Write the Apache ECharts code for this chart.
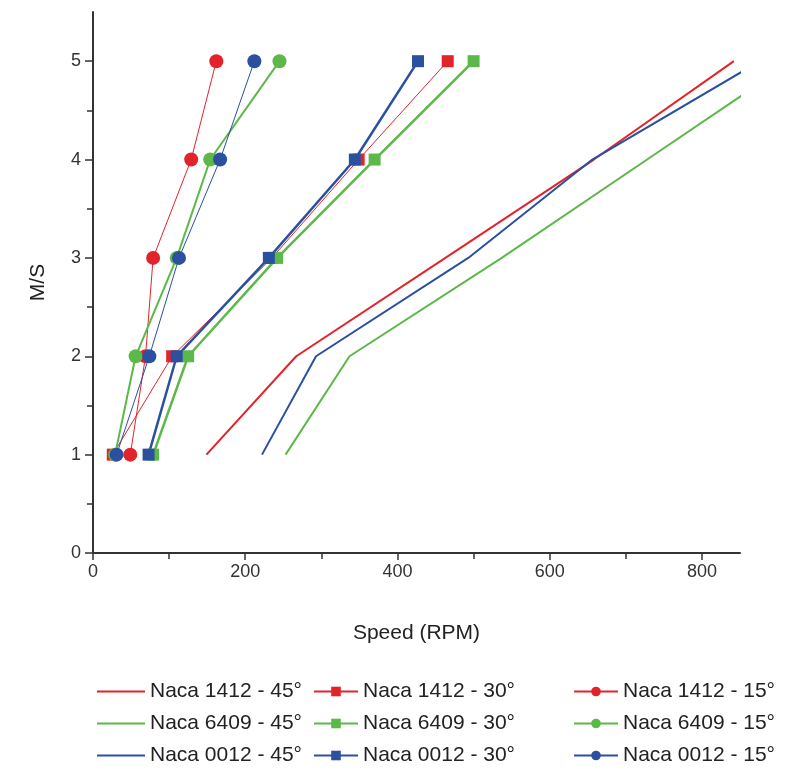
<!DOCTYPE html>
<html>
<head>
<meta charset="utf-8">
<script src="https://cdn.jsdelivr.net/npm/echarts@6/dist/echarts.min.js"></script>
<style>
html,body{margin:0;padding:0;background:#fff;}
#c{width:790px;height:778px;}
</style>
</head>
<body>
<div id="c"></div>
<script>
// Y levels (M/S)
const speedLevels = [1, 2, 3, 4, 5];
// 45° series (RPM)
const naca1412_45 = [149, 267, 463, 658, 842];
const naca6409_45 = [253, 337, 537, 728, 919];
const naca0012_45 = [222, 293, 493, 656, 876];
// 30° series (RPM)
const naca1412_30 = [26, 104, 235, 349, 466];
const naca6409_30 = [79, 125, 242, 370, 500];
const naca0012_30 = [73, 110, 231, 344, 427];
// 15° series (RPM)
const naca1412_15 = [49, 69, 79, 129, 162];
const naca6409_15 = [29, 56, 110, 154, 245];
const naca0012_15 = [31, 74, 113, 167, 212];

const xMajorTicks = [0, 200, 400, 600, 800];
const xMinorTicks = [100, 300, 500, 700];
const yMajorTicks = [0, 1, 2, 3, 4, 5];
const yMinorTicks = [0.5, 1.5, 2.5, 3.5, 4.5];

const RED = '#e3232a', GREEN = '#5cb848', BLUE = '#2b50a0';
const FONT = '"Liberation Sans", Arial, sans-serif';

function pts(xs) { return xs.map((x, i) => [x, speedLevels[i]]); }
function mk(name, xs, color, width, symbol, size) {
  return {
    name: name, type: 'line', data: pts(xs),
    xAxisIndex: 0, yAxisIndex: 0,
    symbol: symbol || 'none', symbolSize: size || 0,
    showSymbol: !!symbol,
    lineStyle: { color: color, width: width },
    itemStyle: { color: color },
    emphasis: { disabled: true },
    animation: false
  };
}

const axisLineStyle = { color: '#333', width: 2 };
const legendText = { fontSize: 21, color: '#222', fontFamily: FONT, padding: [0, 0, 0, 0] };

const chart = echarts.init(document.getElementById('c'));
chart.setOption({
  backgroundColor: '#fff',
  animation: false,
  grid: { left: 93, right: 50, top: 12, bottom: 225, containLabel: false },
  xAxis: [
    {
      type: 'value', min: 0, max: 850,
      name: 'Speed (RPM)', nameLocation: 'middle', nameGap: 70,
      nameTextStyle: { fontSize: 21, color: '#222', fontFamily: FONT },
      axisLine: { show: true, lineStyle: axisLineStyle },
      axisTick: { show: true, customValues: xMajorTicks, length: 7, lineStyle: { color: '#333', width: 1.5 } },
      axisLabel: { customValues: xMajorTicks, fontSize: 18, color: '#333', margin: 10, fontFamily: FONT },
      splitLine: { show: false }
    },
    {
      type: 'value', min: 0, max: 850, position: 'bottom',
      axisLine: { show: false },
      axisTick: { show: true, customValues: xMinorTicks, length: 6, lineStyle: { color: '#333', width: 1.5 } },
      axisLabel: { show: false },
      splitLine: { show: false }
    }
  ],
  yAxis: [
    {
      type: 'value', min: 0, max: 5.5,
      name: 'M/S', nameLocation: 'middle', nameGap: 44,
      nameTextStyle: { fontSize: 21, color: '#222', fontFamily: FONT },
      axisLine: { show: true, lineStyle: axisLineStyle },
      axisTick: { show: true, customValues: yMajorTicks, length: 8, lineStyle: { color: '#333', width: 1.5 } },
      axisLabel: { customValues: yMajorTicks, fontSize: 18, color: '#333', margin: 12, fontFamily: FONT },
      splitLine: { show: false }
    },
    {
      type: 'value', min: 0, max: 5.5, position: 'left',
      axisLine: { show: false },
      axisTick: { show: true, customValues: yMinorTicks, length: 6, lineStyle: { color: '#333', width: 1.5 } },
      axisLabel: { show: false },
      splitLine: { show: false }
    }
  ],
  legend: [
    {
      orient: 'vertical', left: 97, top: 681, itemWidth: 48, itemHeight: 2, itemGap: 11,
      padding: 0,
      textStyle: legendText,
      data: [
        { name: 'Naca 1412 - 45°', icon: 'rect' },
        { name: 'Naca 6409 - 45°', icon: 'rect' },
        { name: 'Naca 0012 - 45°', icon: 'rect' }
      ]
    },
    {
      orient: 'vertical', left: 313, top: 681, itemWidth: 44, itemHeight: 12, itemGap: 11,
      padding: 0,
      textStyle: legendText,
      data: ['Naca 1412 - 30°', 'Naca 6409 - 30°', 'Naca 0012 - 30°']
    },
    {
      orient: 'vertical', left: 573, top: 681, itemWidth: 44, itemHeight: 12, itemGap: 11,
      padding: 0,
      textStyle: legendText,
      data: ['Naca 1412 - 15°', 'Naca 6409 - 15°', 'Naca 0012 - 15°']
    }
  ],
  series: [
    mk('Naca 1412 - 45°', naca1412_45, RED, 2),
    mk('Naca 6409 - 45°', naca6409_45, GREEN, 2),
    mk('Naca 0012 - 45°', naca0012_45, BLUE, 2),
    mk('Naca 1412 - 30°', naca1412_30, RED, 1, 'rect', 12),
    mk('Naca 6409 - 30°', naca6409_30, GREEN, 2.5, 'rect', 12),
    mk('Naca 0012 - 30°', naca0012_30, BLUE, 2.5, 'rect', 12),
    mk('Naca 1412 - 15°', naca1412_15, RED, 1, 'circle', 14),
    mk('Naca 6409 - 15°', naca6409_15, GREEN, 2, 'circle', 14),
    mk('Naca 0012 - 15°', naca0012_15, BLUE, 1, 'circle', 14)
  ]
});
</script>
</body>
</html>
